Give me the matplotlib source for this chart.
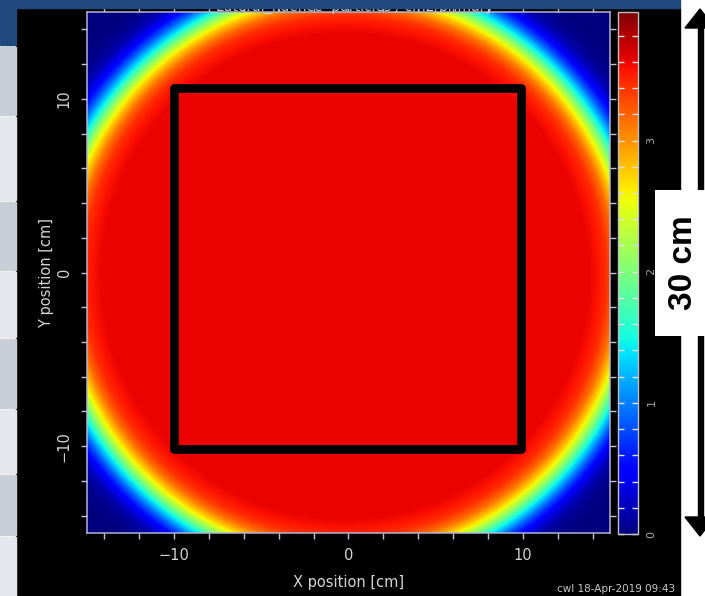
import numpy as np
import matplotlib
matplotlib.use("Agg")
import matplotlib.pyplot as plt
from matplotlib.patches import Rectangle, Polygon
from matplotlib.ticker import FixedLocator, MultipleLocator

# Radial fluence profile of the beam spot (radius in cm -> particles per cell)
profile_r = [0.0, 14.0, 14.5, 15.0, 15.5, 16.0, 16.5, 17.0, 17.5, 18.0, 18.5, 19.0, 19.5, 20.0, 22.0]
profile_v = [3.6, 3.6, 3.54, 3.42, 3.16, 2.73, 2.13, 1.45, 0.86, 0.42, 0.17, 0.06, 0.02, 0.0, 0.0]
beam_center = (-0.2, -0.2)

# Field of view and colour scale
xy_range = (-15.0, 15.0)
z_range = (0.0, 3.98)

# Axis ticks
tick_minor = list(range(-14, 15, 2))
tick_major = [-10, 0, 10]
tick_labels = ["\u221210", "0", "10"]
cbar_major = [0, 1, 2, 3]
cbar_labels = ["0", "1", "2", "3"]

# Irradiation field outline (cm)
field_x = (-10.0, 9.9)
field_y = (-10.15, 10.65)

W, H = 705, 596
fig = plt.figure(figsize=(W / 100, H / 100), dpi=100, facecolor="white")


def fx(px):
    return px / W


def fy(py):
    return 1 - py / H


# slide background: dark panel, table strip on the left, header bar
fig.add_artist(Rectangle((fx(16), 0), (680 - 16) / W, (596 - 8) / H,
                         transform=fig.transFigure, color="black", zorder=-5))
rows = [(47, 115, "#c9cdd6"), (117, 200, "#e4e7ee"), (202, 270, "#c9cdd6"),
        (272, 337, "#e4e7ee"), (339, 408, "#c9cdd6"), (410, 473, "#e4e7ee"),
        (475, 535, "#c9cdd6"), (537, 596, "#e4e7ee")]
for top, bot, col in rows:
    fig.add_artist(Rectangle((0, fy(bot)), 16 / W, (bot - top) / H,
                             transform=fig.transFigure, color=col, zorder=-5))
fig.add_artist(Rectangle((0, fy(8)), 680 / W, 8 / H, transform=fig.transFigure,
                         color="#1f497d", zorder=10))
fig.add_artist(Rectangle((0, fy(45)), 16 / W, 45 / H, transform=fig.transFigure,
                         color="#1f497d", zorder=10))

fig.text(fx(355), fy(10.5), "Lateral_fluence  particles / cm2/primary",
         ha="center", va="baseline", fontsize=10, color="#d0d0d0", zorder=5)

# main map
ax = fig.add_axes([fx(87), fy(533), 523 / W, 521 / H])
ax.set_facecolor("black")
n = 320
edges = np.linspace(xy_range[0], xy_range[1], n + 1)
centers = 0.5 * (edges[:-1] + edges[1:])
gx, gy = np.meshgrid(centers, centers)
radius = np.hypot(gx - beam_center[0], gy - beam_center[1])
field = np.interp(radius, profile_r, profile_v)
im = ax.imshow(field, extent=(*xy_range, *xy_range), origin="lower", cmap="jet",
               vmin=z_range[0], vmax=z_range[1], interpolation="bilinear", aspect="auto")
ax.set_xlim(*xy_range)
ax.set_ylim(*xy_range)

ax.add_patch(Rectangle((field_x[0], field_y[0]), field_x[1] - field_x[0],
                       field_y[1] - field_y[0], fill=False, edgecolor="black",
                       linewidth=6.3, joinstyle="round", zorder=5))

for sp in ax.spines.values():
    sp.set_color("#b4b4d4")
    sp.set_linewidth(1.1)

for axis in (ax.xaxis, ax.yaxis):
    axis.set_major_locator(FixedLocator(tick_major))
    axis.set_minor_locator(FixedLocator(tick_minor))
ax.set_xticklabels(tick_labels)
ax.set_yticklabels(tick_labels, rotation=90, va="center")
ax.tick_params(which="both", direction="out", length=4, width=1, color="#c0c0d8",
               top=True, right=True, labelcolor="#d4d4d4", labelsize=10.5, pad=7)

ax.set_xlabel("X position [cm]", color="#d4d4d4", fontsize=10.5)
ax.set_ylabel("Y position [cm]", color="#d4d4d4", fontsize=10.5)
ax.xaxis.set_label_coords(0.5, (533 - 582) / 521)
ax.xaxis.label.set_va("center")
ax.yaxis.set_label_coords((47 - 87) / 523, 0.5)
ax.yaxis.label.set_va("center")

# colour bar
cax = fig.add_axes([fx(618), fy(534), 20 / W, 522 / H])
cb = fig.colorbar(im, cax=cax)
cb.outline.set_edgecolor("#c0c0c0")
cb.outline.set_linewidth(1.0)
cax.yaxis.set_major_locator(FixedLocator(cbar_major))
cax.yaxis.set_minor_locator(MultipleLocator(0.2))
cax.set_yticklabels(cbar_labels, rotation=90, va="center")
cax.tick_params(which="both", direction="in", left=True, right=True, length=4,
                width=1, color="#e0e0e0", labelcolor="#a8a8a8", labelsize=8, pad=6)

fig.text(fx(675), fy(589), "cwl 18-Apr-2019 09:43", ha="right", va="center",
         fontsize=7.5, color="#c8c8c8")

# scale arrow with its label
ov = fig.add_axes([0, 0, 1, 1], zorder=20)
ov.set_xlim(0, W)
ov.set_ylim(H, 0)
ov.axis("off")
ov.add_patch(Rectangle((697.5, 26), 5, 494, color="black"))
ov.add_patch(Polygon([(685, 28), (700, 9), (715, 28)], closed=True, color="black"))
ov.add_patch(Polygon([(685, 517), (700, 536), (715, 517)], closed=True, color="black"))
ov.add_patch(Rectangle((655, 190), 60, 146, facecolor="white", edgecolor="none"))
ov.text(684, 263, "30 cm", rotation=90, ha="center", va="center", fontsize=24,
        fontweight="bold", family=["Liberation Sans", "DejaVu Sans"], color="black")

fig.savefig("out.png", dpi=100, facecolor=fig.get_facecolor())
